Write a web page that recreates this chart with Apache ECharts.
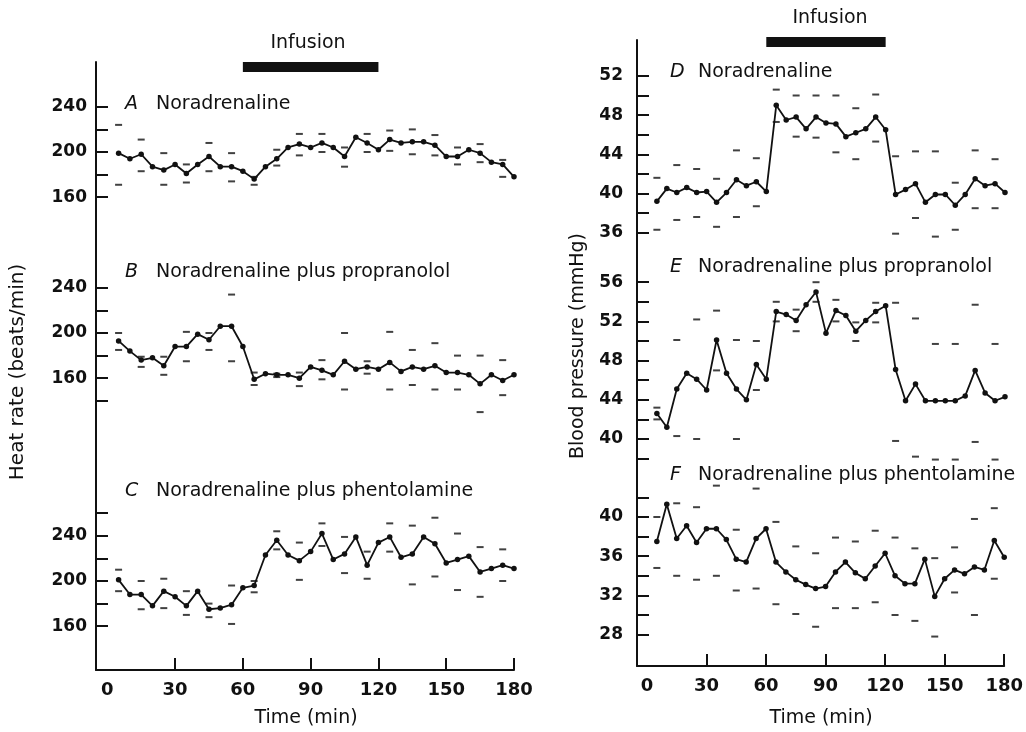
<!DOCTYPE html>
<html><head><meta charset="utf-8">
<script src="https://cdn.jsdelivr.net/npm/echarts@6/dist/echarts.min.js"></script>
<style>html,body{margin:0;padding:0;background:#fff}#c{width:1026px;height:732px}</style>
</head><body><div id="c"></div>
<script>
// ---------- DATA ----------
const times = [5,10,15,20,25,30,35,40,45,50,55,60,65,70,75,80,85,90,95,100,105,110,115,120,125,130,135,140,145,150,155,160,165,170,175,180];
const errTimes = [5,15,25,35,45,55,65,75,85,95,105,115,125,135,145,155,165,175];
const xTickValues = [30,60,90,120,150,180];
const xLabelValues = [0,30,60,90,120,150,180];
const infusion = [60,120];

const hrTicksA = [160,180,200,220,240];
const hrTicksB = [140,160,180,200,220,240];
const hrTicksC = [160,180,200,220,240,260];
const hrLabels = [160,200,240];
const bpTicksD = [36,38,40,42,44,46,48,50,52];
const bpLabelsD = [36,40,44,48,52];
const bpTicksE = [38,40,42,44,46,48,50,52,54,56];
const bpLabelsE = [40,44,48,52,56];
const bpTicksF = [28,30,32,34,36,38,40,42];
const bpLabelsF = [28,32,36,40];

// Heart rate (beats/min)
const hrA = [199,194,198,187,184,189,181,189,196,187,187,183,176,187,194,204,207,204,208,204,196,213,208,202,211,208,209,209,206,196,196,202,199,191,189,178];
const hrA_hi = [224,211,199,189,208,199,178,202,216,216,204,216,219,220,215,204,207,193];
const hrA_lo = [171,183,171,173,183,174,171,188,197,200,187,200,201,198,197,189,191,178];

const hrB = [193,184,176,178,171,188,188,199,194,206,206,188,159,164,163,163,160,170,167,163,175,168,170,168,174,166,170,168,171,165,165,163,155,163,158,163];
const hrB_hi = [200,179,179,201,200,234,165,164,165,176,200,175,201,185,191,180,180,176];
const hrB_lo = [185,170,163,175,185,175,154,161,153,159,150,164,150,154,150,150,130,145];

const hrC = [201,188,188,178,191,186,178,191,175,176,179,194,196,223,236,223,218,226,242,219,224,239,214,234,239,221,224,239,233,216,219,222,208,211,214,211];
const hrC_hi = [210,200,202,191,180,196,200,244,234,251,239,226,251,249,256,242,230,228];
const hrC_lo = [191,175,176,170,168,162,190,228,201,231,207,202,226,197,204,192,186,200];

// Blood pressure (mmHg)
const bpD = [39.2,40.5,40.1,40.6,40.1,40.2,39.1,40.1,41.4,40.8,41.2,40.2,49.0,47.5,47.8,46.6,47.8,47.2,47.1,45.8,46.2,46.6,47.8,46.5,39.9,40.4,41.0,39.1,39.9,39.9,38.8,39.9,41.5,40.8,41.0,40.1];
const bpD_hi = [41.6,42.9,42.5,41.5,44.4,43.6,50.6,50.0,50.0,50.0,48.7,50.1,43.8,44.3,44.3,41.1,44.4,43.5];
const bpD_lo = [36.3,37.3,37.6,36.6,37.6,38.7,47.3,45.8,45.7,44.2,43.5,45.3,35.9,37.5,35.6,36.3,38.5,38.5];

const bpE = [42.6,41.2,45.1,46.7,46.1,45.0,50.1,46.7,45.1,44.0,47.6,46.1,53.0,52.7,52.1,53.7,55.0,50.8,53.1,52.6,51.0,52.1,53.0,53.6,47.1,43.9,45.6,43.9,43.9,43.9,43.9,44.4,47.0,44.7,43.9,44.3];
const bpE_hi = [43.2,50.1,52.2,53.1,50.1,50.0,54.0,53.2,56.0,54.2,51.9,53.9,53.9,52.3,49.7,49.7,53.7,49.7];
const bpE_lo = [42.0,40.3,40.0,47.0,40.0,45.0,52.0,51.0,54.0,52.0,50.0,51.9,39.8,38.2,37.9,37.9,39.7,37.9];

const bpF = [37.5,41.3,37.8,39.1,37.4,38.8,38.8,37.7,35.7,35.4,37.8,38.8,35.4,34.4,33.6,33.1,32.7,32.9,34.4,35.4,34.3,33.7,35.0,36.3,34.0,33.2,33.2,35.7,31.9,33.7,34.6,34.2,34.9,34.6,37.6,35.9];
const bpF_hi = [40.0,41.4,41.0,43.2,38.7,42.9,39.5,37.0,36.3,37.9,37.5,38.6,37.9,36.8,35.8,36.9,39.8,40.9];
const bpF_lo = [34.8,34.0,33.6,34.0,32.5,32.7,31.1,30.1,28.8,30.7,30.7,31.3,30.0,29.4,27.8,32.3,30.0,33.7];

// ---------- LAYOUT / STYLE ----------
const INK = '#111';
const NUM_FONT = '"DejaVu Sans", sans-serif';
const TXT_FONT = '"DejaVu Sans", sans-serif';

const cols = {
  left:  {left: 96,  width: 418, ppu: 1.13, labelMargin: 9},
  right: {left: 637, width: 368, ppu: 9.8,  labelMargin: 14}
};

const panels = [
  {col:'left',  letter:'A', name:'Noradrenaline', vals:hrA, hi:hrA_hi, lo:hrA_lo, top:62,  bottom:245, ref:200, refPx:152, ticks:hrTicksA, labels:hrLabels, lx:125, ly:104, bottomAxis:false, infusionPx:67},
  {col:'left',  letter:'B', name:'Noradrenaline plus propranolol', vals:hrB, hi:hrB_hi, lo:hrB_lo, top:245, bottom:460, ref:200, refPx:333, ticks:hrTicksB, labels:hrLabels, lx:125, ly:272, bottomAxis:false},
  {col:'left',  letter:'C', name:'Noradrenaline plus phentolamine', vals:hrC, hi:hrC_hi, lo:hrC_lo, top:460, bottom:670, ref:200, refPx:581, ticks:hrTicksC, labels:hrLabels, lx:125, ly:491, bottomAxis:true},
  {col:'right', letter:'D', name:'Noradrenaline', vals:bpD, hi:bpD_hi, lo:bpD_lo, top:40,  bottom:258, ref:40, refPx:193.5, ticks:bpTicksD, labels:bpLabelsD, lx:670, ly:72, bottomAxis:false, infusionPx:42},
  {col:'right', letter:'E', name:'Noradrenaline plus propranolol', vals:bpE, hi:bpE_hi, lo:bpE_lo, top:258, bottom:478, ref:40, refPx:439, ticks:bpTicksE, labels:bpLabelsE, lx:670, ly:267, bottomAxis:false},
  {col:'right', letter:'F', name:'Noradrenaline plus phentolamine', vals:bpF, hi:bpF_hi, lo:bpF_lo, top:478, bottom:666, ref:40, refPx:517, ticks:bpTicksF, labels:bpLabelsF, lx:670, ly:475, bottomAxis:true}
];

const grid = [], xAxis = [], yAxis = [], series = [], graphic = [];

panels.forEach((p, i) => {
  const c = cols[p.col];
  const ymax = p.ref + (p.refPx - p.top) / c.ppu;
  const ymin = p.ref - (p.bottom - p.refPx) / c.ppu;
  grid.push({left: c.left, width: c.width, top: p.top, height: p.bottom - p.top, containLabel: false});
  xAxis.push({
    type: 'value', gridIndex: i, min: -5, max: 180,
    show: p.bottomAxis,
    axisLine: {show: true, onZero: false, lineStyle: {color: INK, width: 2}},
    axisTick: {show: true, inside: true, length: 12, customValues: xTickValues, lineStyle: {color: INK, width: 2}},
    axisLabel: {show: true, customValues: xLabelValues, margin: 11, color: INK, fontFamily: NUM_FONT, fontWeight: 'bold', fontSize: 18},
    splitLine: {show: false}
  });
  yAxis.push({
    type: 'value', gridIndex: i, min: ymin, max: ymax,
    axisLine: {show: true, onZero: false, lineStyle: {color: INK, width: 2}},
    axisTick: {show: true, inside: true, length: 12, customValues: p.ticks, lineStyle: {color: INK, width: 2}},
    axisLabel: {show: true, customValues: p.labels, margin: c.labelMargin, color: INK, fontFamily: NUM_FONT, fontWeight: 'bold', fontSize: 17},
    splitLine: {show: false}
  });
  series.push({
    type: 'line', xAxisIndex: i, yAxisIndex: i,
    data: times.map((t, k) => [t, p.vals[k]]),
    symbol: 'circle', symbolSize: 5.5, showSymbol: true,
    lineStyle: {color: INK, width: 1.8}, itemStyle: {color: INK},
    clip: false, silent: true
  });
  [p.hi, p.lo].forEach(arr => {
    series.push({
      type: 'scatter', xAxisIndex: i, yAxisIndex: i,
      data: errTimes.map((t, k) => [t, arr[k]]),
      symbol: 'rect', symbolSize: [7, 2], itemStyle: {color: INK},
      clip: false, silent: true
    });
  });
  if (p.infusionPx !== undefined) {
    const yv = p.ref + (p.refPx - p.infusionPx) / c.ppu;
    series.push({
      type: 'line', xAxisIndex: i, yAxisIndex: i,
      data: infusion.map(t => [t, yv]),
      symbol: 'none', lineStyle: {color: INK, width: 10, cap: 'butt'},
      clip: false, silent: true
    });
  }
  graphic.push({type: 'text', x: p.lx, y: p.ly, style: {text: p.letter, font: 'italic 19px ' + TXT_FONT, fill: INK, align: 'left', verticalAlign: 'middle', textAlign: 'left', textVerticalAlign: 'middle'}});
  graphic.push({type: 'text', x: p.lx + (p.col === 'left' ? 31 : 28), y: p.ly, style: {text: p.name, font: '19px ' + TXT_FONT, fill: INK, align: 'left', verticalAlign: 'middle', textAlign: 'left', textVerticalAlign: 'middle'}});
});

function ctext(txt, x, y, rot, size) {
  return {type: 'text', x: x, y: y, rotation: rot || 0,
    style: {text: txt, font: (size || 19) + 'px ' + TXT_FONT, fill: INK, align: 'center', verticalAlign: 'middle', textAlign: 'center', textVerticalAlign: 'middle'}};
}
graphic.push(ctext('Infusion', 308, 43));
graphic.push(ctext('Infusion', 830, 18));
graphic.push(ctext('Time (min)', 306, 718));
graphic.push(ctext('Time (min)', 821, 718));
graphic.push(ctext('Heat rate (beats/min)', 18, 372, Math.PI / 2, 20));
graphic.push(ctext('Blood pressure (mmHg)', 578, 346, Math.PI / 2, 19));

const chart = echarts.init(document.getElementById('c'), null, {renderer: 'canvas'});
chart.setOption({
  animation: false,
  backgroundColor: '#fff',
  grid, xAxis, yAxis, series, graphic
});
</script>
</body></html>
